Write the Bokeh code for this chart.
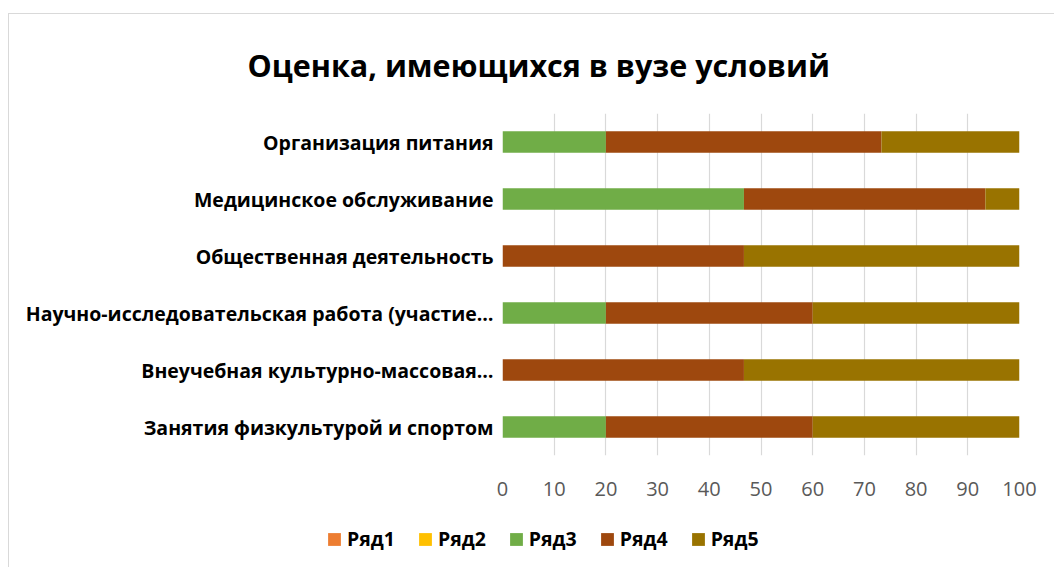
from bokeh.plotting import figure
from bokeh.layouts import column
from bokeh.models import ColumnDataSource, Legend, LegendItem, FactorRange, Range1d, SingleIntervalTicker
from bokeh.embed import file_html
from bokeh.resources import INLINE

title_text = "Оценка, имеющихся в вузе условий"

# categories listed bottom -> top
categories = [
    "Занятия физкультурой и спортом",
    "Внеучебная культурно-массовая…",
    "Научно-исследовательская работа (участие…",
    "Общественная деятельность",
    "Медицинское обслуживание",
    "Организация питания",
]
series = ["Ряд1", "Ряд2", "Ряд3", "Ряд4", "Ряд5"]
ryad1 = [0, 0, 0, 0, 0, 0]
ryad2 = [0, 0, 0, 0, 0, 0]
ryad3 = [20, 0, 20, 0, 46.7, 20]
ryad4 = [40, 46.7, 40, 46.7, 46.7, 53.3]
ryad5 = [40, 53.3, 40, 53.3, 6.6, 26.7]
colors = ["#ED7D31", "#FFC000", "#70AD47", "#9E480E", "#997300"]

source = ColumnDataSource(dict(cat=categories, Ряд1=ryad1, Ряд2=ryad2, Ряд3=ryad3, Ряд4=ryad4, Ряд5=ryad5))

FONT = "Open Sans"
W = 1045

p = figure(
    width=W, height=506,
    y_range=FactorRange(*categories, range_padding=0),
    x_range=Range1d(0, 100),
    output_backend="svg", toolbar_location=None,
    min_border_left=493, min_border_right=35,
    min_border_top=98, min_border_bottom=65,
)
p.frame_align = False

renderers = p.hbar_stack(series, y="cat", height=0.38, color=colors, line_color=None, source=source)

p.title.text = title_text
p.title.align = "left"
p.title.offset = -255
p.title.standoff = 55
p.title.text_font = FONT
p.title.text_font_size = "30.5px"
p.title.text_font_style = "bold"
p.title.text_color = "#000000"

p.outline_line_color = None
p.background_fill_color = "white"
p.border_fill_color = "white"

p.xgrid.grid_line_color = "#d9d9d9"
p.xgrid.grid_line_width = 1.2
p.ygrid.grid_line_color = None

p.xaxis.ticker = SingleIntervalTicker(interval=10)
p.xaxis.axis_line_color = None
p.xaxis.major_tick_line_color = None
p.xaxis.minor_tick_line_color = None
p.xaxis.major_label_text_font = FONT
p.xaxis.major_label_text_font_size = "20px"
p.xaxis.major_label_text_color = "#595959"
p.xaxis.major_label_standoff = 20

p.yaxis.axis_line_color = None
p.yaxis.major_tick_line_color = None
p.yaxis.minor_tick_line_color = None
p.yaxis.major_label_text_font = FONT
p.yaxis.major_label_text_font_size = "19.5px"
p.yaxis.major_label_text_font_style = "bold"
p.yaxis.major_label_text_color = "#000000"
p.yaxis.major_label_standoff = 3

# legend strip below the chart (same series, hidden renderers, legend only)
lg = figure(
    width=W, height=47,
    x_range=Range1d(0, 100), y_range=FactorRange(*categories),
    output_backend="svg", toolbar_location=None,
    min_border_left=0, min_border_right=0, min_border_top=0, min_border_bottom=0,
)
lg.frame_align = False
lg.axis.visible = False
lg.grid.grid_line_color = None
lg.outline_line_color = None
lg.background_fill_color = "white"
lg.border_fill_color = "white"
legend_renderers = lg.hbar_stack(series, y="cat", height=0.38, color=colors, line_color=None, source=source)
for r in legend_renderers:
    r.visible = False

legend = Legend(
    items=[LegendItem(label=s, renderers=[r]) for s, r in zip(series, legend_renderers)],
    orientation="horizontal",
    location=(317, 15),
    padding=0, margin=0, spacing=22,
    glyph_width=16, glyph_height=16, label_standoff=5, label_height=22,
    label_text_font=FONT, label_text_font_size="19.5px", label_text_font_style="bold",
    label_text_color="#000000",
    border_line_color=None, background_fill_alpha=0,
)
lg.add_layout(legend, "center")

layout = column(p, lg, spacing=0)
layout.styles = {"margin": "13px 0px 0px 8px",
                 "border-top": "1px solid #d9d9d9", "border-left": "1px solid #d9d9d9"}

open("out.html", "w").write(file_html(layout, INLINE))
